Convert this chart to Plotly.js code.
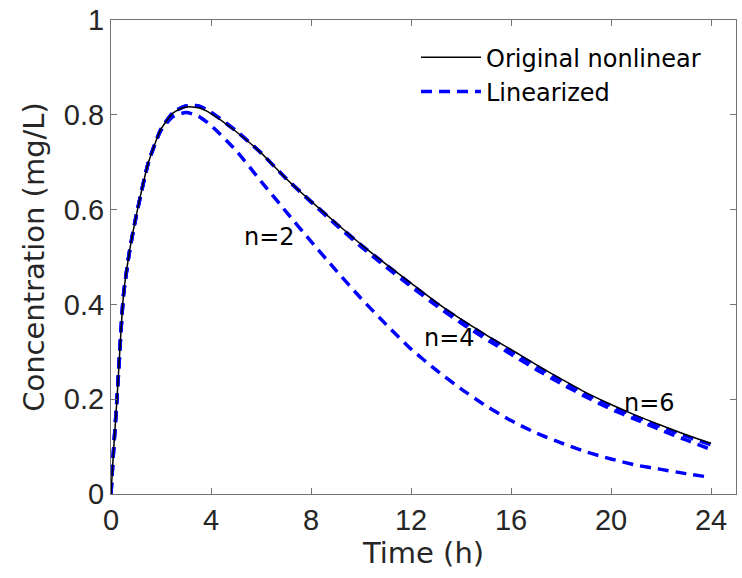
<!DOCTYPE html>
<html>
<head>
<meta charset="utf-8">
<script src="https://cdn.plot.ly/plotly-3.0.1.min.js"></script>
<style>html,body{margin:0;padding:0;background:#fff;}#chart{width:742px;height:578px;}</style>
</head>
<body>
<div id="chart"></div>
<script>
const timeH = [0,0.1,0.25,0.5,0.75,1,1.5,2,2.5,3,3.5,4,5,6,7,8,9,10,11,12,13,14,15,16,17,18,19,20,21,22,23,24];
const original = [0,0.09,0.21,0.42,0.515,0.585,0.70,0.77,0.805,0.817,0.815,0.803,0.765,0.72,0.666,0.618,0.572,0.527,0.485,0.445,0.405,0.369,0.336,0.305,0.273,0.243,0.214,0.189,0.166,0.145,0.125,0.107];
const linN2 = [0,0.09,0.21,0.42,0.515,0.585,0.70,0.767,0.797,0.805,0.797,0.778,0.725,0.66,0.596,0.533,0.472,0.413,0.358,0.306,0.262,0.222,0.186,0.155,0.129,0.108,0.089,0.074,0.061,0.052,0.043,0.035];
const linN4 = [0,0.09,0.21,0.42,0.515,0.585,0.70,0.77,0.806,0.819,0.819,0.806,0.767,0.72,0.666,0.616,0.568,0.522,0.479,0.438,0.398,0.361,0.327,0.295,0.263,0.233,0.205,0.179,0.157,0.135,0.114,0.094];
const linN6 = [0,0.09,0.21,0.42,0.515,0.585,0.70,0.77,0.806,0.819,0.819,0.805,0.766,0.72,0.666,0.618,0.571,0.526,0.484,0.443,0.403,0.367,0.334,0.302,0.271,0.240,0.211,0.186,0.163,0.142,0.122,0.104];
const xTicks = [0,4,8,12,16,20,24];
const yTicks = [0,0.2,0.4,0.6,0.8,1];
const labels = ["n=2","n=4","n=6"];
const labelX = [6.35,13.55,21.55];
const labelY = [0.542,0.329,0.193];

const TICKFONT = '"Liberation Sans", Arial, sans-serif';
const FONT = '"DejaVu Sans", sans-serif';
const dashStyle = {color:'#0000ff', width:3.5, dash:'11px,7px', shape:'spline', smoothing:0.6};
const traces = [
  {x:timeH, y:linN2, mode:'lines', name:'Linearized', legendgroup:'lin', showlegend:true, legendrank:2, line:dashStyle},
  {x:timeH, y:linN4, mode:'lines', name:'Linearized', legendgroup:'lin', showlegend:false, line:dashStyle},
  {x:timeH, y:linN6, mode:'lines', name:'Linearized', legendgroup:'lin', showlegend:false, line:dashStyle},
  {x:timeH, y:original, mode:'lines', name:'Original nonlinear', legendrank:1, line:{color:'#000000', width:1.5, shape:'spline', smoothing:0.6}}
];
const axisCommon = {
  showline:true, linecolor:'#737373', linewidth:1, mirror:'ticks',
  ticks:'inside', ticklen:6, tickcolor:'#737373', showgrid:false, zeroline:false,
  tickfont:{family:TICKFONT, size:29, color:'#262626'}
};
const layout = {
  width:742, height:578,
  margin:{l:111, r:6, t:20, b:84},
  paper_bgcolor:'#ffffff', plot_bgcolor:'#ffffff',
  font:{family:FONT, color:'#262626'},
  xaxis:Object.assign({}, axisCommon, {range:[0,25], tickvals:xTicks, ticktext:xTicks.map(String),
    title:{text:'Time (h)', font:{family:FONT, size:29, color:'#262626'}, standoff:6}}),
  yaxis:Object.assign({}, axisCommon, {range:[0,1.0004], tickvals:yTicks, ticktext:yTicks.map(v=>String(v)),
    title:{text:'Concentration (mg/L)', font:{family:FONT, size:29, color:'#262626'}, standoff:10}}),
  legend:{x:0.488, y:0.968, xanchor:'left', yanchor:'top', bgcolor:'rgba(255,255,255,0)', borderwidth:0,
    itemwidth:60, font:{family:FONT, size:24, color:'#000000'}, tracegroupgap:0},
  annotations: labels.map((t,i)=>({x:labelX[i], y:labelY[i], xref:'x', yref:'y', text:t, showarrow:false,
    font:{family:FONT, size:24, color:'#000000'}}))
};
Plotly.newPlot('chart', traces, layout, {staticPlot:true});
</script>
</body>
</html>
